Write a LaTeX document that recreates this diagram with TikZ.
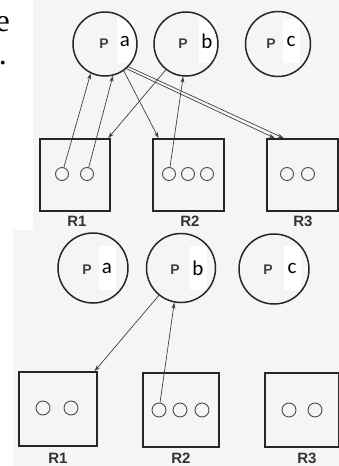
\documentclass[tikz,border=0pt]{standalone}
\usepackage{fontspec}
\setmainfont{Liberation Sans}
\newfontfamily\labfont{Carlito}
\newfontfamily\bodyserif{Liberation Serif}
\usetikzlibrary{arrows.meta,calc}

\begin{document}
\begin{tikzpicture}[x=1pt,y=-1pt,
  proc/.style={draw=black!85,line width=1.5pt,circle,minimum size=#1,inner sep=0pt},
  res/.style={draw=black!85,line width=1.8pt,rectangle,inner sep=0pt},
  slot/.style={draw=black!70,circle,minimum size=13pt,inner sep=0pt,line width=0.9pt},
  pmark/.style={text=black!75,font=\bfseries\fontsize{14}{14}\selectfont,inner sep=0pt},
  pname/.style={fill=white,inner sep=0pt,minimum width=17pt,minimum height=44pt,
                font=\labfont\fontsize{21}{21}\selectfont},
  rname/.style={text=black!80,font=\bfseries\fontsize{15}{15}\selectfont,inner sep=0pt},
  arr/.style={draw=black!75,line width=0.7pt,-{Stealth[length=6pt,width=4pt]}}]

\useasboundingbox (0,0) rectangle (339,466);

% scanned page tint
\fill[black!4] (33,0) rectangle (339,230);
\fill[black!4] (13,230) rectangle (339,466);

% stray letters of the surrounding page text
\node[font=\bodyserif\fontsize{32}{32}\selectfont,anchor=base east,inner sep=0pt] (te) at (10,31) {e};
\node[font=\bodyserif\fontsize{32}{32}\selectfont,anchor=base east,inner sep=0pt] (td) at (7,64) {.};

% ---------- upper state ----------
% name labels sit under the circle outlines
\node[pname] (Paw) at (125,41) {a};
\node[pname] (Pbw) at (207,41) {b};
\node[pname] (Pcw) at (291,41) {c};
\node[pmark] (Pal) at (104,44) {P};
\node[pmark] (Pbl) at (183,44) {P};
\node[pmark] (Pcl) at (271,44) {P};

\node[proc=64pt] (Pa) at (105,44) {};
\node[proc=64pt] (Pb) at (186,44) {};
\node[proc=65pt] (Pc) at (278,44) {};

\node[res,minimum width=70pt,minimum height=72pt] (R1) at (75,175) {};
\node[res,minimum width=71pt,minimum height=72pt] (R2) at (188.5,175) {};
\node[res,minimum width=71pt,minimum height=72pt] (R3) at (302.5,175) {};

\node[slot] (r1a) at (62,174) {};
\node[slot] (r1b) at (87,174) {};
\node[slot] (r2a) at (169,174) {};
\node[slot] (r2b) at (188,174) {};
\node[slot] (r2c) at (207,174) {};
\node[slot] (r3a) at (287,174) {};
\node[slot] (r3b) at (308,174) {};

\node[rname] (R1l) at (77,221) {R1};
\node[rname] (R2l) at (190,221) {R2};
\node[rname] (R3l) at (303,221) {R3};

\draw[arr] (r1a) -- (Pa.244);
\draw[arr] (r1b) -- (Pa.284);
\draw[arr] (Pb.232) -- (R1.48);
\draw[arr] (Pa.305) -- (R2.129);
\draw[arr] (r2a) -- (Pb.265);
\draw[arr] (Pa.311) -- (R3.127);
\draw[arr] (Pa.316) -- (R3.117);

% ---------- lower state ----------
\node[pname] (Qaw) at (107,268) {a};
\node[pname] (Qbw) at (198,268) {b};
\node[pname] (Qcw) at (292,268) {c};
\node[pmark] (Qal) at (87,270) {P};
\node[pmark] (Qbl) at (175,270) {P};
\node[pmark] (Qcl) at (268,270) {P};

\node[proc=70pt] (Qa) at (93,268) {};
\node[proc=69pt] (Qb) at (181,268) {};
\node[proc=70pt] (Qc) at (274,269) {};

\node[res,minimum width=78pt,minimum height=74pt] (S1) at (58,409) {};
\node[res,minimum width=76pt,minimum height=74pt] (S2) at (181,410) {};
\node[res,minimum width=74pt,minimum height=74pt] (S3) at (302,410) {};

\node[slot,minimum size=14pt] (s1a) at (43,408) {};
\node[slot,minimum size=14pt] (s1b) at (71,408) {};
\node[slot,minimum size=14pt] (s2a) at (159,410) {};
\node[slot,minimum size=14pt] (s2b) at (180,410) {};
\node[slot,minimum size=14pt] (s2c) at (202,410) {};
\node[slot,minimum size=14pt] (s3a) at (289,410) {};
\node[slot,minimum size=14pt] (s3b) at (315,410) {};

\node[rname] (S1l) at (58,458) {R1};
\node[rname] (S2l) at (181,458) {R2};
\node[rname] (S3l) at (307,458) {R3};

\draw[arr] (Qb.231) -- (S1.46);
\draw[arr] (s2a) -- (Qb.259);

\end{tikzpicture}
\end{document}
